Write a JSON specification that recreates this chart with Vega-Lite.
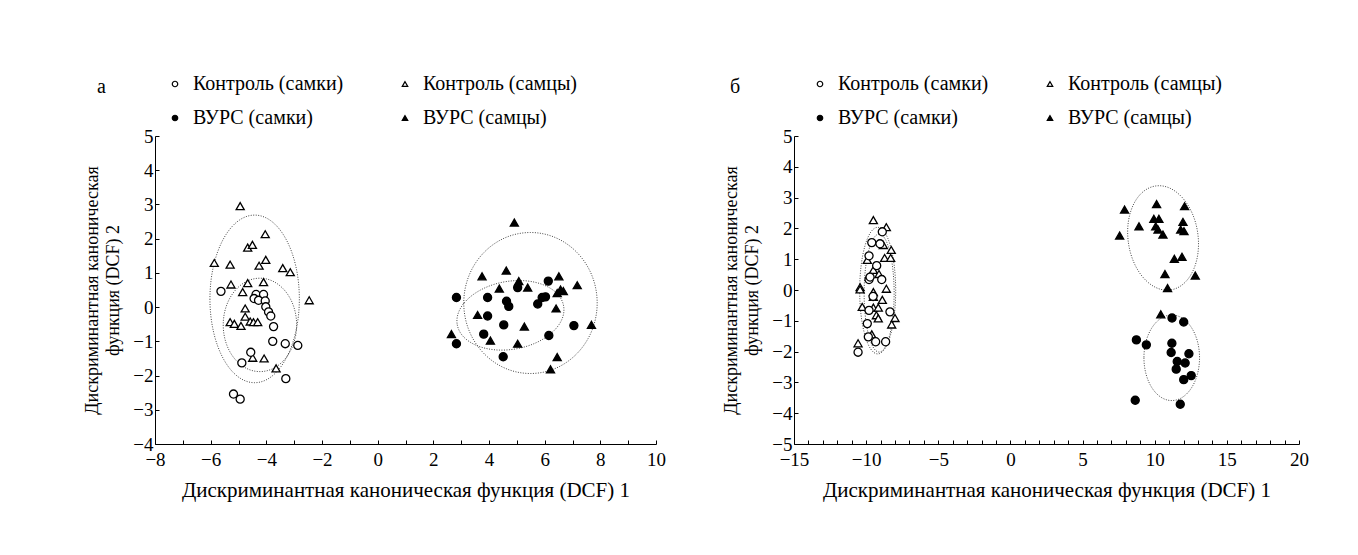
{
  "$schema": "https://vega.github.io/schema/vega-lite/v6.json",
  "padding": {"left": 83, "top": 74, "right": 5, "bottom": 5},
  "background": "white",
  "config": {
    "font": "Liberation Serif",
    "view": {"stroke": null},
    "axis": {
      "domainColor": "black",
      "tickColor": "black",
      "tickSize": -4,
      "tickCount": 100,
      "labelColor": "black",
      "titleColor": "black",
      "labelFont": "Liberation Serif",
      "titleFont": "Liberation Serif",
      "labelFontSize": 19,
      "titleFontSize": 21,
      "titleFontWeight": "normal",
      "grid": false,
      "labelOverlap": false,
      "labelFlush": false,
      "labelPadding": 6,
      "format": "d"
    },
    "legend": {
      "labelFont": "Liberation Serif",
      "labelFontSize": 20,
      "labelColor": "black",
      "symbolStrokeColor": "black",
      "symbolStrokeWidth": 1.2,
      "symbolSize": 30,
      "labelOffset": 8,
      "rowPadding": 14,
      "columnPadding": 51
    },
    "title": {"fontSize": 20, "fontWeight": "normal", "color": "black", "font": "Liberation Serif"}
  },
  "resolve": {
    "scale": {"shape": "independent", "fill": "independent", "stroke": "independent"},
    "legend": {"shape": "independent", "fill": "independent", "stroke": "independent"}
  },
  "datasets": {
    "ptsA": [
      {"g": "Контроль (самцы)", "d1": -4.94, "d2": 2.95},
      {"g": "Контроль (самцы)", "d1": -4.04, "d2": 2.13},
      {"g": "Контроль (самцы)", "d1": -4.67, "d2": 1.74},
      {"g": "Контроль (самцы)", "d1": -4.50, "d2": 1.82},
      {"g": "Контроль (самцы)", "d1": -5.87, "d2": 1.29},
      {"g": "Контроль (самцы)", "d1": -5.30, "d2": 1.24},
      {"g": "Контроль (самцы)", "d1": -4.26, "d2": 1.21},
      {"g": "Контроль (самцы)", "d1": -4.02, "d2": 1.38},
      {"g": "Контроль (самцы)", "d1": -3.41, "d2": 1.14},
      {"g": "Контроль (самцы)", "d1": -3.14, "d2": 1.02},
      {"g": "Контроль (самцы)", "d1": -5.27, "d2": 0.66},
      {"g": "Контроль (самцы)", "d1": -4.67, "d2": 0.70},
      {"g": "Контроль (самцы)", "d1": -4.10, "d2": 0.73},
      {"g": "Контроль (самцы)", "d1": -4.85, "d2": 0.44},
      {"g": "Контроль (самцы)", "d1": -2.46, "d2": 0.20},
      {"g": "Контроль (самцы)", "d1": -4.76, "d2": -0.04},
      {"g": "Контроль (самцы)", "d1": -4.76, "d2": -0.28},
      {"g": "Контроль (самцы)", "d1": -5.30, "d2": -0.44},
      {"g": "Контроль (самцы)", "d1": -5.15, "d2": -0.49},
      {"g": "Контроль (самцы)", "d1": -4.91, "d2": -0.55},
      {"g": "Контроль (самцы)", "d1": -4.58, "d2": -0.42},
      {"g": "Контроль (самцы)", "d1": -4.46, "d2": -0.44},
      {"g": "Контроль (самцы)", "d1": -4.31, "d2": -0.44},
      {"g": "Контроль (самцы)", "d1": -4.49, "d2": -1.48},
      {"g": "Контроль (самцы)", "d1": -4.08, "d2": -1.50},
      {"g": "Контроль (самцы)", "d1": -3.65, "d2": -1.79},
      {"g": "Контроль (самки)", "d1": -5.63, "d2": 0.46},
      {"g": "Контроль (самки)", "d1": -4.37, "d2": 0.37},
      {"g": "Контроль (самки)", "d1": -4.10, "d2": 0.37},
      {"g": "Контроль (самки)", "d1": -4.44, "d2": 0.25},
      {"g": "Контроль (самки)", "d1": -4.28, "d2": 0.20},
      {"g": "Контроль (самки)", "d1": -4.04, "d2": 0.18},
      {"g": "Контроль (самки)", "d1": -4.02, "d2": 0.01},
      {"g": "Контроль (самки)", "d1": -3.92, "d2": -0.14},
      {"g": "Контроль (самки)", "d1": -3.84, "d2": -0.26},
      {"g": "Контроль (самки)", "d1": -3.74, "d2": -0.57},
      {"g": "Контроль (самки)", "d1": -3.77, "d2": -1.00},
      {"g": "Контроль (самки)", "d1": -3.32, "d2": -1.07},
      {"g": "Контроль (самки)", "d1": -2.87, "d2": -1.12},
      {"g": "Контроль (самки)", "d1": -4.56, "d2": -1.32},
      {"g": "Контроль (самки)", "d1": -4.88, "d2": -1.63},
      {"g": "Контроль (самки)", "d1": -3.30, "d2": -2.09},
      {"g": "Контроль (самки)", "d1": -5.18, "d2": -2.54},
      {"g": "Контроль (самки)", "d1": -4.94, "d2": -2.69},
      {"g": "ВУРС (самцы)", "d1": 4.91, "d2": 2.47},
      {"g": "ВУРС (самцы)", "d1": 3.75, "d2": 0.90},
      {"g": "ВУРС (самцы)", "d1": 4.62, "d2": 1.07},
      {"g": "ВУРС (самцы)", "d1": 6.51, "d2": 0.90},
      {"g": "ВУРС (самцы)", "d1": 7.17, "d2": 0.64},
      {"g": "ВУРС (самцы)", "d1": 4.37, "d2": 0.54},
      {"g": "ВУРС (самцы)", "d1": 5.07, "d2": 0.76},
      {"g": "ВУРС (самцы)", "d1": 5.39, "d2": 0.57},
      {"g": "ВУРС (самцы)", "d1": 6.57, "d2": 0.51},
      {"g": "ВУРС (самцы)", "d1": 6.45, "d2": 0.41},
      {"g": "ВУРС (самцы)", "d1": 6.67, "d2": 0.47},
      {"g": "ВУРС (самцы)", "d1": 6.41, "d2": -0.04},
      {"g": "ВУРС (самцы)", "d1": 3.59, "d2": -0.23},
      {"g": "ВУРС (самцы)", "d1": 5.27, "d2": -0.57},
      {"g": "ВУРС (самцы)", "d1": 7.68, "d2": -0.52},
      {"g": "ВУРС (самцы)", "d1": 2.65, "d2": -0.79},
      {"g": "ВУРС (самцы)", "d1": 4.05, "d2": -0.98},
      {"g": "ВУРС (самцы)", "d1": 5.03, "d2": -1.07},
      {"g": "ВУРС (самцы)", "d1": 6.45, "d2": -1.46},
      {"g": "ВУРС (самцы)", "d1": 6.21, "d2": -1.82},
      {"g": "ВУРС (самки)", "d1": 2.83, "d2": 0.28},
      {"g": "ВУРС (самки)", "d1": 3.95, "d2": 0.28},
      {"g": "ВУРС (самки)", "d1": 5.03, "d2": 0.57},
      {"g": "ВУРС (самки)", "d1": 6.13, "d2": 0.76},
      {"g": "ВУРС (самки)", "d1": 4.63, "d2": 0.17},
      {"g": "ВУРС (самки)", "d1": 4.71, "d2": 0.02},
      {"g": "ВУРС (самки)", "d1": 5.91, "d2": 0.28},
      {"g": "ВУРС (самки)", "d1": 6.03, "d2": 0.30},
      {"g": "ВУРС (самки)", "d1": 5.75, "d2": 0.09},
      {"g": "ВУРС (самки)", "d1": 3.95, "d2": -0.26},
      {"g": "ВУРС (самки)", "d1": 4.53, "d2": -0.52},
      {"g": "ВУРС (самки)", "d1": 7.05, "d2": -0.54},
      {"g": "ВУРС (самки)", "d1": 3.81, "d2": -0.79},
      {"g": "ВУРС (самки)", "d1": 6.15, "d2": -0.83},
      {"g": "ВУРС (самки)", "d1": 2.83, "d2": -1.07},
      {"g": "ВУРС (самки)", "d1": 4.51, "d2": -1.45}
    ],
    "ptsB": [
      {"g": "Контроль (самцы)", "d1": -9.50, "d2": 2.27},
      {"g": "Контроль (самцы)", "d1": -8.60, "d2": 2.04},
      {"g": "Контроль (самцы)", "d1": -8.81, "d2": 1.46},
      {"g": "Контроль (самцы)", "d1": -8.26, "d2": 1.30},
      {"g": "Контроль (самцы)", "d1": -8.72, "d2": 1.04},
      {"g": "Контроль (самцы)", "d1": -8.30, "d2": 1.04},
      {"g": "Контроль (самцы)", "d1": -9.92, "d2": 0.98},
      {"g": "Контроль (самцы)", "d1": -9.50, "d2": 0.65},
      {"g": "Контроль (самцы)", "d1": -9.11, "d2": 0.52},
      {"g": "Контроль (самцы)", "d1": -10.42, "d2": 0.09},
      {"g": "Контроль (самцы)", "d1": -10.42, "d2": 0.02},
      {"g": "Контроль (самцы)", "d1": -9.50, "d2": -0.07},
      {"g": "Контроль (самцы)", "d1": -8.60, "d2": 0.04},
      {"g": "Контроль (самцы)", "d1": -9.50, "d2": -0.22},
      {"g": "Контроль (самцы)", "d1": -8.88, "d2": -0.32},
      {"g": "Контроль (самцы)", "d1": -10.27, "d2": -0.55},
      {"g": "Контроль (самцы)", "d1": -9.50, "d2": -0.57},
      {"g": "Контроль (самцы)", "d1": -9.16, "d2": -0.57},
      {"g": "Контроль (самцы)", "d1": -9.29, "d2": -0.82},
      {"g": "Контроль (самцы)", "d1": -9.16, "d2": -0.92},
      {"g": "Контроль (самцы)", "d1": -8.00, "d2": -0.91},
      {"g": "Контроль (самцы)", "d1": -8.23, "d2": -1.12},
      {"g": "Контроль (самцы)", "d1": -9.61, "d2": -1.44},
      {"g": "Контроль (самцы)", "d1": -10.56, "d2": -1.73},
      {"g": "Контроль (самки)", "d1": -8.88, "d2": 1.89},
      {"g": "Контроль (самки)", "d1": -9.61, "d2": 1.54},
      {"g": "Контроль (самки)", "d1": -9.04, "d2": 1.50},
      {"g": "Контроль (самки)", "d1": -9.80, "d2": 1.11},
      {"g": "Контроль (самки)", "d1": -9.27, "d2": 0.79},
      {"g": "Контроль (самки)", "d1": -9.80, "d2": 0.34},
      {"g": "Контроль (самки)", "d1": -9.73, "d2": 0.42},
      {"g": "Контроль (самки)", "d1": -8.92, "d2": 0.34},
      {"g": "Контроль (самки)", "d1": -9.52, "d2": -0.21},
      {"g": "Контроль (самки)", "d1": -9.80, "d2": -0.66},
      {"g": "Контроль (самки)", "d1": -8.35, "d2": -0.71},
      {"g": "Контроль (самки)", "d1": -9.92, "d2": -1.09},
      {"g": "Контроль (самки)", "d1": -9.85, "d2": -1.52},
      {"g": "Контроль (самки)", "d1": -9.34, "d2": -1.68},
      {"g": "Контроль (самки)", "d1": -8.65, "d2": -1.68},
      {"g": "Контроль (самки)", "d1": -10.56, "d2": -2.02},
      {"g": "ВУРС (самцы)", "d1": 10.13, "d2": 2.79},
      {"g": "ВУРС (самцы)", "d1": 12.07, "d2": 2.72},
      {"g": "ВУРС (самцы)", "d1": 7.91, "d2": 2.61},
      {"g": "ВУРС (самцы)", "d1": 8.91, "d2": 2.07},
      {"g": "ВУРС (самцы)", "d1": 9.94, "d2": 2.31},
      {"g": "ВУРС (самцы)", "d1": 10.29, "d2": 2.31},
      {"g": "ВУРС (самцы)", "d1": 10.07, "d2": 2.07},
      {"g": "ВУРС (самцы)", "d1": 10.23, "d2": 1.96},
      {"g": "ВУРС (самцы)", "d1": 10.57, "d2": 1.80},
      {"g": "ВУРС (самцы)", "d1": 11.96, "d2": 2.21},
      {"g": "ВУРС (самцы)", "d1": 11.80, "d2": 1.96},
      {"g": "ВУРС (самцы)", "d1": 12.03, "d2": 1.91},
      {"g": "ВУРС (самцы)", "d1": 7.57, "d2": 1.77},
      {"g": "ВУРС (самцы)", "d1": 11.36, "d2": 1.01},
      {"g": "ВУРС (самцы)", "d1": 11.89, "d2": 1.08},
      {"g": "ВУРС (самцы)", "d1": 10.71, "d2": 0.52},
      {"g": "ВУРС (самцы)", "d1": 12.81, "d2": 0.47},
      {"g": "ВУРС (самцы)", "d1": 10.89, "d2": 0.06},
      {"g": "ВУРС (самцы)", "d1": 10.42, "d2": -0.79},
      {"g": "ВУРС (самки)", "d1": 11.20, "d2": -0.91},
      {"g": "ВУРС (самки)", "d1": 12.01, "d2": -1.04},
      {"g": "ВУРС (самки)", "d1": 8.73, "d2": -1.62},
      {"g": "ВУРС (самки)", "d1": 9.42, "d2": -1.78},
      {"g": "ВУРС (самки)", "d1": 11.19, "d2": -1.73},
      {"g": "ВУРС (самки)", "d1": 11.14, "d2": -2.03},
      {"g": "ВУРС (самки)", "d1": 12.37, "d2": -2.07},
      {"g": "ВУРС (самки)", "d1": 11.56, "d2": -2.32},
      {"g": "ВУРС (самки)", "d1": 12.11, "d2": -2.37},
      {"g": "ВУРС (самки)", "d1": 11.49, "d2": -2.57},
      {"g": "ВУРС (самки)", "d1": 12.53, "d2": -2.78},
      {"g": "ВУРС (самки)", "d1": 12.01, "d2": -2.91},
      {"g": "ВУРС (самки)", "d1": 8.65, "d2": -3.58},
      {"g": "ВУРС (самки)", "d1": 11.77, "d2": -3.71}
    ],
    "ellA": [
      {"id": "E1", "d1": -4.42, "d2": 0.24},
      {"id": "E2", "d1": -4.23, "d2": -0.52},
      {"id": "E3", "d1": 5.49, "d2": 0.12},
      {"id": "E4", "d1": 4.77, "d2": -0.24}
    ],
    "ellB": [
      {"id": "E5", "d1": -9.2, "d2": -0.02},
      {"id": "E6", "d1": -9.1, "d2": -0.1},
      {"id": "E7", "d1": 10.58, "d2": 1.69},
      {"id": "E8", "d1": 11.18, "d2": -2.2}
    ]
  },
  "spacing": 56,
  "hconcat": [
    {
      "width": 501,
      "height": 308,
      "title": {"text": "а", "anchor": "start", "frame": "group", "dx": -58, "dy": 27},
      "layer": [
        {
          "data": {"name": "ellA"},
          "transform": [{"filter": "datum.id == 'E1'"}],
          "mark": {"type": "point", "shape": "M -44.7 0 A 44.7 83.8 0 1 0 44.7 0 A 44.7 83.8 0 1 0 -44.7 0 Z", "filled": false, "stroke": "#444", "strokeWidth": 1, "strokeDash": [1, 1.5], "size": 4, "opacity": 1},
          "encoding": {"x": {"field": "d1", "type": "quantitative"}, "y": {"field": "d2", "type": "quantitative"}}
        },
        {
          "data": {"name": "ellA"},
          "transform": [{"filter": "datum.id == 'E2'"}],
          "mark": {"type": "point", "shape": "M -36.7 0 A 36.7 46.7 0 1 0 36.7 0 A 36.7 46.7 0 1 0 -36.7 0 Z", "filled": false, "stroke": "#444", "strokeWidth": 1, "strokeDash": [1, 1.5], "size": 4, "opacity": 1},
          "encoding": {"x": {"field": "d1", "type": "quantitative"}, "y": {"field": "d2", "type": "quantitative"}}
        },
        {
          "data": {"name": "ellA"},
          "transform": [{"filter": "datum.id == 'E3'"}],
          "mark": {"type": "point", "shape": "M -66.7 0 A 66.7 70.5 0 1 0 66.7 0 A 66.7 70.5 0 1 0 -66.7 0 Z", "filled": false, "stroke": "#444", "strokeWidth": 1, "strokeDash": [1, 1.5], "size": 4, "opacity": 1},
          "encoding": {"x": {"field": "d1", "type": "quantitative"}, "y": {"field": "d2", "type": "quantitative"}}
        },
        {
          "data": {"name": "ellA"},
          "transform": [{"filter": "datum.id == 'E4'"}],
          "mark": {"type": "point", "shape": "M -53.18 9.38 A 54 34 -10 1 0 53.18 -9.38 A 54 34 -10 1 0 -53.18 9.38 Z", "filled": false, "stroke": "#444", "strokeWidth": 1, "strokeDash": [1, 1.5], "size": 4, "opacity": 1},
          "encoding": {"x": {"field": "d1", "type": "quantitative"}, "y": {"field": "d2", "type": "quantitative"}}
        },
        {
          "data": {"name": "ptsA"},
          "mark": {"type": "point", "filled": true, "strokeWidth": 1.3, "size": 65, "opacity": 1},
          "encoding": {
            "x": {"field": "d1", "type": "quantitative",
              "scale": {"domain": [-8, 10], "nice": false, "zero": false},
              "axis": {"title": "Дискриминантная каноническая функция (DCF) 1", "tickCount": 100, "format": "d",
                "values": [-8, -7, -6, -5, -4, -3, -2, -1, 0, 1, 2, 3, 4, 5, 6, 7, 8, 9, 10],
                "labelExpr": "datum.value % 2 == 0 ? datum.label : ''", "labelOverlap": false, "labelPadding": 10, "titlePadding": 10}},
            "y": {"field": "d2", "type": "quantitative",
              "scale": {"domain": [-4, 5], "nice": false, "zero": false},
              "axis": {"title": ["Дискриминантная каноническая", "функция (DCF) 2"], "titleFontSize": 18, "titleLineHeight": 21, "tickCount": 100, "format": "d",
                "values": [-4, -3.75, -3.5, -3.25, -3, -2.75, -2.5, -2.25, -2, -1.75, -1.5, -1.25, -1, -0.75, -0.5, -0.25, 0, 0.25, 0.5, 0.75, 1, 1.25, 1.5, 1.75, 2, 2.25, 2.5, 2.75, 3, 3.25, 3.5, 3.75, 4, 4.25, 4.5, 4.75, 5],
                "labelExpr": "datum.value % 1 == 0 ? datum.label : ''", "labelOverlap": false, "titlePadding": 10}},
            "shape": {"field": "g", "type": "nominal",
              "scale": {"domain": ["Контроль (самки)", "Контроль (самцы)", "ВУРС (самки)", "ВУРС (самцы)"], "range": ["circle", "triangle-up", "circle", "triangle-up"]},
              "legend": {"title": null, "orient": "none", "legendX": 10, "legendY": -62, "columns": 2, "direction": "horizontal"}},
            "fill": {"field": "g", "type": "nominal",
              "scale": {"domain": ["Контроль (самки)", "Контроль (самцы)", "ВУРС (самки)", "ВУРС (самцы)"], "range": ["white", "white", "black", "black"]},
              "legend": {"title": null, "orient": "none", "legendX": 10, "legendY": -62, "columns": 2, "direction": "horizontal"}},
            "stroke": {"field": "g", "type": "nominal",
              "scale": {"domain": ["Контроль (самки)", "Контроль (самцы)", "ВУРС (самки)", "ВУРС (самцы)"], "range": ["black", "black", "black", "black"]},
              "legend": {"title": null, "orient": "none", "legendX": 10, "legendY": -62, "columns": 2, "direction": "horizontal"}}
          }
        }
      ]
    },
    {
      "width": 505,
      "height": 308,
      "title": {"text": "б", "anchor": "start", "frame": "group", "dx": -64, "dy": 27},
      "layer": [
        {
          "data": {"name": "ellB"},
          "transform": [{"filter": "datum.id == 'E5'"}],
          "mark": {"type": "point", "shape": "M -18 0 A 18 63.3 0 1 0 18 0 A 18 63.3 0 1 0 -18 0 Z", "filled": false, "stroke": "#444", "strokeWidth": 1, "strokeDash": [1, 1.5], "size": 4, "opacity": 1},
          "encoding": {"x": {"field": "d1", "type": "quantitative"}, "y": {"field": "d2", "type": "quantitative"}}
        },
        {
          "data": {"name": "ellB"},
          "transform": [{"filter": "datum.id == 'E6'"}],
          "mark": {"type": "point", "shape": "M -15 0 A 15 59 0 1 0 15 0 A 15 59 0 1 0 -15 0 Z", "filled": false, "stroke": "#444", "strokeWidth": 1, "strokeDash": [1, 1.5], "size": 4, "opacity": 1},
          "encoding": {"x": {"field": "d1", "type": "quantitative"}, "y": {"field": "d2", "type": "quantitative"}}
        },
        {
          "data": {"name": "ellB"},
          "transform": [{"filter": "datum.id == 'E7'"}],
          "mark": {"type": "point", "shape": "M -34.66 4.87 A 35 52.5 -8 1 0 34.66 -4.87 A 35 52.5 -8 1 0 -34.66 4.87 Z", "filled": false, "stroke": "#444", "strokeWidth": 1, "strokeDash": [1, 1.5], "size": 4, "opacity": 1},
          "encoding": {"x": {"field": "d1", "type": "quantitative"}, "y": {"field": "d2", "type": "quantitative"}}
        },
        {
          "data": {"name": "ellB"},
          "transform": [{"filter": "datum.id == 'E8'"}],
          "mark": {"type": "point", "shape": "M -27.8 0 A 27.8 42.8 0 1 0 27.8 0 A 27.8 42.8 0 1 0 -27.8 0 Z", "filled": false, "stroke": "#444", "strokeWidth": 1, "strokeDash": [1, 1.5], "size": 4, "opacity": 1},
          "encoding": {"x": {"field": "d1", "type": "quantitative"}, "y": {"field": "d2", "type": "quantitative"}}
        },
        {
          "data": {"name": "ptsB"},
          "mark": {"type": "point", "filled": true, "strokeWidth": 1.3, "size": 65, "opacity": 1},
          "encoding": {
            "x": {"field": "d1", "type": "quantitative",
              "scale": {"domain": [-15, 20], "nice": false, "zero": false},
              "axis": {"title": "Дискриминантная каноническая функция (DCF) 1", "tickCount": 100, "format": "d",
                "values": [-15, -14, -13, -12, -11, -10, -9, -8, -7, -6, -5, -4, -3, -2, -1, 0, 1, 2, 3, 4, 5, 6, 7, 8, 9, 10, 11, 12, 13, 14, 15, 16, 17, 18, 19, 20],
                "labelExpr": "datum.value % 5 == 0 ? datum.label : ''", "labelOverlap": false, "labelPadding": 10, "titlePadding": 10}},
            "y": {"field": "d2", "type": "quantitative",
              "scale": {"domain": [-5, 5], "nice": false, "zero": false},
              "axis": {"title": ["Дискриминантная каноническая", "функция (DCF) 2"], "titleFontSize": 18, "titleLineHeight": 21, "tickCount": 100, "format": "d",
                "values": [-5, -4.75, -4.5, -4.25, -4, -3.75, -3.5, -3.25, -3, -2.75, -2.5, -2.25, -2, -1.75, -1.5, -1.25, -1, -0.75, -0.5, -0.25, 0, 0.25, 0.5, 0.75, 1, 1.25, 1.5, 1.75, 2, 2.25, 2.5, 2.75, 3, 3.25, 3.5, 3.75, 4, 4.25, 4.5, 4.75, 5],
                "labelExpr": "datum.value % 1 == 0 ? datum.label : ''", "labelOverlap": false, "titlePadding": 10}},
            "shape": {"field": "g", "type": "nominal",
              "scale": {"domain": ["Контроль (самки)", "Контроль (самцы)", "ВУРС (самки)", "ВУРС (самцы)"], "range": ["circle", "triangle-up", "circle", "triangle-up"]},
              "legend": {"title": null, "orient": "none", "legendX": 16, "legendY": -62, "columns": 2, "direction": "horizontal"}},
            "fill": {"field": "g", "type": "nominal",
              "scale": {"domain": ["Контроль (самки)", "Контроль (самцы)", "ВУРС (самки)", "ВУРС (самцы)"], "range": ["white", "white", "black", "black"]},
              "legend": {"title": null, "orient": "none", "legendX": 16, "legendY": -62, "columns": 2, "direction": "horizontal"}},
            "stroke": {"field": "g", "type": "nominal",
              "scale": {"domain": ["Контроль (самки)", "Контроль (самцы)", "ВУРС (самки)", "ВУРС (самцы)"], "range": ["black", "black", "black", "black"]},
              "legend": {"title": null, "orient": "none", "legendX": 16, "legendY": -62, "columns": 2, "direction": "horizontal"}}
          }
        }
      ]
    }
  ]
}
